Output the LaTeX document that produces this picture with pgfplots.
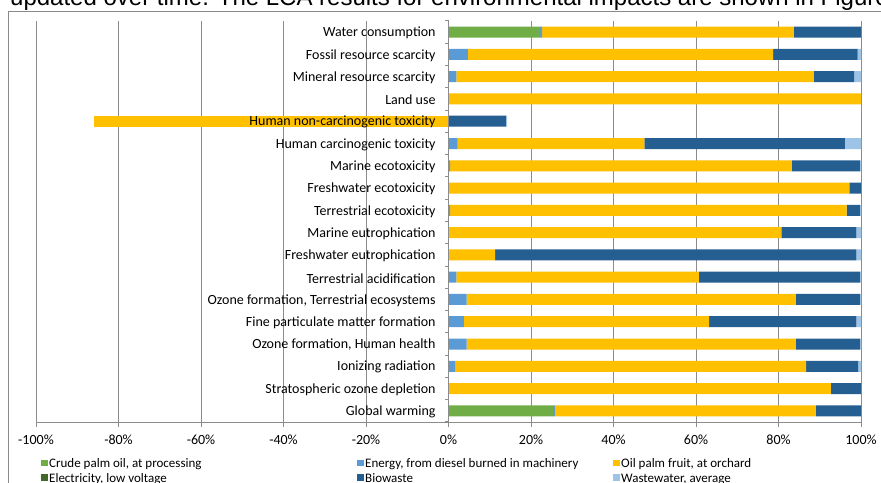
\documentclass[border=0pt]{standalone}
\usepackage{fontspec}
\setmainfont{Carlito}
\newfontfamily\arialfont{Liberation Sans}
\usepackage{pgfplots}
\usepackage{pgfplotstable}
\pgfplotsset{compat=1.18}

\definecolor{cGreen}{HTML}{70AD47}
\definecolor{cEnergy}{HTML}{5B9BD5}
\definecolor{cYellow}{HTML}{FFC000}
\definecolor{cElec}{HTML}{43682B}
\definecolor{cBio}{HTML}{255E91}
\definecolor{cWaste}{HTML}{9DC3E6}
\definecolor{gridgray}{HTML}{8C8C8C}
\definecolor{framegray}{HTML}{8A8A8A}

% idx: 0 = Water consumption (top) ... 17 = Global warming (bottom)
\pgfplotstableread{
idx G    E    Y     El   B     W
0   22.2 0.5  61.0  0    16.3  0
1   0    4.7  74.0  0.2  20.3  0.8
2   0    1.9  86.6  0    9.8   1.7
3   0    0    100   0    0     0
4   0    0    0     0    13.9  0.3
5   0    2.2  45.3  0    48.6  3.9
6   0    0.4  82.8  0    16.5  0.3
7   0    0    97.2  0    2.8   0
8   0    0.4  96.1  0    3.2   0.3
9   0    0    80.7  0    18.2  1.1
10  0    0    11.3  0    87.6  1.1
11  0    1.9  58.8  0    39.0  0.3
12  0    4.4  79.8  0    15.5  0.3
13  0    3.7  59.5  0    35.7  1.1
14  0    4.4  79.8  0    15.5  0.3
15  0    1.6  85.1  0    12.6  0.7
16  0    0    92.7  0    7.3   0
17  25.6 0.2  63.2  0    11.0  0
}\datatable

\pgfplotstableread{
idx Y
4   -86
}\negtable

\begin{document}
\begin{tikzpicture}[x=1bp,y=1bp]
\useasboundingbox (0,0) rectangle (881,483);
\clip (0,0) rectangle (881,483);
\fill[white] (0,0) rectangle (881,483);
\node[anchor=base west, inner sep=0pt, font=\arialfont\fontsize{24bp}{28bp}\selectfont] at (10,477) {updated over time. The LCA results for environmental impacts are shown in Figure};
\draw[framegray, line width=1bp] (8,-5) -- (8,471) -- (890,471);

\begin{axis}[
  at={(36bp,61bp)}, anchor=south west,
  scale only axis, width=825bp, height=401bp,
  xmin=-100, xmax=100, ymin=-0.5, ymax=17.5, y dir=reverse,
  xbar stacked, bar width=11bp,
  axis x line*=bottom, axis y line=none,
  x axis line style={gridgray, line width=1bp},
  xtick={-100,-80,...,100},
  xticklabels={-100\%,-80\%,-60\%,-40\%,-20\%,0\%,20\%,40\%,60\%,80\%,100\%},
  xticklabel style={font=\fontsize{14bp}{16bp}\selectfont, yshift=-4bp},
  tick align=outside, major tick length=5bp,
  xtick style={gridgray, line width=1bp},
  ytick=\empty,
  xmajorgrids, grid style={gridgray, line width=1bp},
  legend columns=3,
  legend cell align=left,
  legend image code/.code={\fill[#1] (0bp,-1.5bp) rectangle (6.5bp,5bp);},
  legend style={draw=none, fill=none, inner xsep=0pt, inner ysep=0pt,
    at={(0.00606,-0.09)}, anchor=north west,
    font=\fontsize{13bp}{15bp}\selectfont,
    nodes={inner sep=0pt, text height=9.5bp, text depth=3bp},
    row sep=2bp,
    /tikz/every odd column/.append style={column sep=1.5bp}},
]
\addplot[fill=cGreen, draw=none] table[x=G, y=idx] {\datatable};
\addlegendentry{\makebox[308bp][l]{Crude palm oil, at processing}}
\addplot[fill=cEnergy, draw=none] table[x=E, y=idx] {\datatable};
\addlegendentry{\makebox[248bp][l]{Energy, from diesel burned in machinery}}
\addplot[fill=cYellow, draw=none] table[x=Y, y=idx] {\datatable};
\addlegendentry{\makebox[150bp][l]{Oil palm fruit, at orchard}}
\addplot[fill=cElec, draw=none] table[x=El, y=idx] {\datatable};
\addlegendentry{\makebox[308bp][l]{Electricity, low voltage}}
\addplot[fill=cBio, draw=none] table[x=B, y=idx] {\datatable};
\addlegendentry{\makebox[248bp][l]{Biowaste}}
\addplot[fill=cWaste, draw=none] table[x=W, y=idx] {\datatable};
\addlegendentry{\makebox[150bp][l]{Wastewater, average}}
\end{axis}

\begin{axis}[
  at={(36bp,61bp)}, anchor=south west,
  scale only axis, width=825bp, height=401bp,
  xmin=-100, xmax=100, ymin=-0.5, ymax=17.5, y dir=reverse,
  xbar, bar width=11bp,
  axis on top,
  axis line style={draw=none},
  xtick=\empty,
  ytick={0,...,17},
  yticklabels={Water consumption,Fossil resource scarcity,Mineral resource scarcity,Land use,Human non-carcinogenic toxicity,Human carcinogenic toxicity,Marine ecotoxicity,Freshwater ecotoxicity,Terrestrial ecotoxicity,Marine eutrophication,Freshwater eutrophication,Terrestrial acidification,{Ozone formation, Terrestrial ecosystems},Fine particulate matter formation,{Ozone formation, Human health},Ionizing radiation,Stratospheric ozone depletion,Global warming},
  ytick style={draw=none},
  yticklabel style={font=\fontsize{14bp}{16bp}\selectfont, anchor=east, inner sep=0pt, xshift=404bp, yshift=-1bp},
]
\addplot[fill=cYellow, draw=none] table[x=Y, y=idx] {\negtable};
\end{axis}

\draw[gridgray, line width=1bp] (448.5,61) -- (448.5,462);
\foreach \j in {0,...,18} \draw[gridgray, line width=1bp] (448.5,{462-401*\j/18}) -- ++(-4,0);
\end{tikzpicture}
\end{document}
